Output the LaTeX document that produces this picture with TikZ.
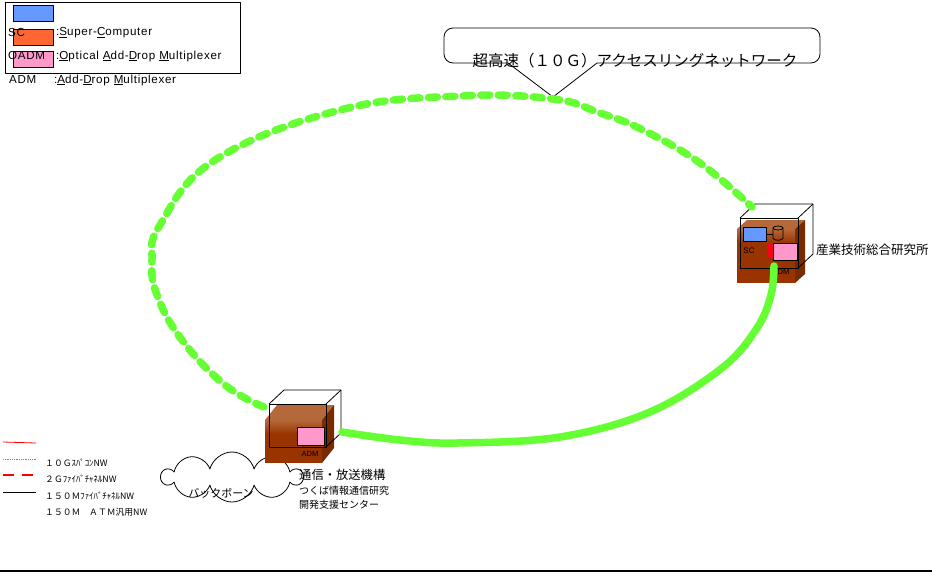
\documentclass[tikz,border=0pt]{standalone}
\usepackage{fontspec}
\setmainfont{Liberation Sans}
\newfontfamily\keyfont[LetterSpace=6]{Liberation Sans}
\newfontfamily\jp{Noto Sans CJK JP}
\usetikzlibrary{shapes.symbols}

\definecolor{ringgreen}{RGB}{102,255,51}
\definecolor{brownfront}{RGB}{153,51,0}
\definecolor{browntop}{RGB}{181,104,58}
\definecolor{brownside}{RGB}{120,42,0}
\definecolor{scblue}{RGB}{102,153,255}
\definecolor{scorange}{RGB}{255,102,51}
\definecolor{oadmpink}{RGB}{255,153,204}

\begin{document}
\begin{tikzpicture}[x=1pt,y=-1pt,line join=round]
	\tikzstyle{ring}=[ringgreen,line width=7.5pt,line cap=round]
	\tikzstyle{chip}=[draw=black,line width=1pt]
	\tikzstyle{wire}=[black,line width=0.8pt]
	\tikzstyle{lbl}=[inner sep=0pt,anchor=west]
	\tikzstyle{keytext}=[lbl,font=\keyfont\fontsize{11.6}{12}\selectfont]
	\useasboundingbox (0,0) rectangle (932,574);

	% key box, top left
	\draw[wire] (5,2) rectangle (240,73);
	\foreach \col/\y in {scblue/5, scorange/29, oadmpink/51}
		\filldraw[chip,fill=\col] (13,\y) rectangle ++(40,16);
	\node[keytext] (sc-key) at (8,33) {SC};
	\node[keytext] (sc-txt) at (56,33) {:\underline{S}uper-\underline{C}omputer};
	\node[keytext] (oadm-key) at (8,56) {OADM};
	\node[keytext] (oadm-txt) at (56,56) {:\underline{O}ptical \underline{A}dd-\underline{D}rop \underline{M}ultiplexer};
	\node[keytext] (adm-key) at (9,80) {ADM};
	\node[keytext] (adm-txt) at (54,80) {:\underline{A}dd-\underline{D}rop \underline{M}ultiplexer};

	% callout over the ring
	\coordinate (tip) at (553,97);
	\draw[wire,rounded corners=9pt] (508,63) -- (444,63) -- (444,28) -- (820,28) -- (820,63) -- (597,63);
	\draw[wire] (508,63) -- (tip) -- (597,63);
	\node[font=\jp\fontsize{15.5}{17}\selectfont,inner sep=0pt] (ring-title) at (635,61) {超高速（１０Ｇ）アクセスリングネットワーク};

	% backbone cloud
	\node[cloud,draw,wire,fill=white,cloud puffs=10,aspect=2.8,minimum width=140pt,minimum height=50pt] (backbone) at (232,477) {};
	\node[font=\jp\fontsize{11}{12}\selectfont,inner sep=0pt] (bb-txt) at (221,493) {バックボーン};

	% brown site boxes
	\foreach \x/\y/\w/\h/\dx/\dy in {265/420/57/43/12/-15, 737/229/58/54/10/-9}{
		\fill[browntop] (\x,\y) -- ++(\dx,\dy) -- ++(\w,0) -- ++(-\dx,-\dy) -- cycle;
		\fill[brownside] (\x+\w,\y) -- ++(\dx,\dy) -- ++(0,\h) -- ++(-\dx,-\dy) -- cycle;
		\fill[brownfront] (\x,\y) rectangle ++(\w,\h);
		\shade[top color=browntop,bottom color=brownfront] (\x,\y) rectangle ++(\w,14);
	}

	% what sits in the boxes
	\filldraw[chip,fill=oadmpink] (297,427) rectangle (324,445);
	\node[font=\fontsize{7.5}{8}\selectfont,inner sep=0pt] (tk-adm) at (310,454) {ADM};
	\filldraw[chip,fill=scblue] (743,227) rectangle (766,241);
	\draw[wire] (766,234) -- (773,234);
	\draw[wire] (778,228) ellipse (5 and 2);
	\draw[wire] (773,228) -- (773,238) .. controls (773,241) and (783,241) .. (783,238) -- (783,228);
	\node[font=\fontsize{8}{9}\selectfont,inner sep=0pt] (ai-sc) at (749,251) {SC};
	\fill[red!90!magenta] (768,243) rectangle (773,257);
	\filldraw[chip,fill=oadmpink] (773,243) rectangle (797,260);
	\node[font=\fontsize{7.5}{8}\selectfont,inner sep=0pt] (ai-adm) at (781,272) {ADM};

	% wire frames
	\foreach \x/\y/\w/\h in {269/404/57/43, 740/218/58/50}{
		\draw[wire] (\x,\y) rectangle ++(\w,\h);
		\draw[wire] (\x,\y) -- ++(15,-14) -- ++(\w,0) -- ++(0,\h) -- ++(-15,14);
		\draw[wire] (\x+\w,\y) -- ++(15,-14);
	}

	% the ring
	\coordinate (tk-w) at (264,407);
	\coordinate (tk-e) at (342,432);
	\coordinate (ai-w) at (752,207);
	\coordinate (ai-s) at (774,266);
	\draw[ring,dash pattern=on 9pt off 8.5pt] plot[smooth,tension=0.7] coordinates {(tk-w) (225,385) (182,340) (157,295) (152,260) (160,225) (215,160) (340,110) (460,96) (553,99) (600,113) (643,130) (700,163) (ai-w)};
	\draw[ring] plot[smooth,tension=0.6] coordinates {(tk-e) (400,440) (457,443) (560,437) (650,412) (722,368) (757,328) (771,295) (ai-s)};

	% site names
	\node[lbl,font=\jp\fontsize{12.5}{14}\selectfont] (aist) at (816,250) {産業技術総合研究所};
	\node[lbl,font=\jp\fontsize{12.3}{14}\selectfont] (tao) at (299,475) {通信・放送機構};
	\node[lbl,font=\jp\fontsize{10}{12}\selectfont] (tao-2) at (299,491) {つくば情報通信研究};
	\node[lbl,font=\jp\fontsize{10}{12}\selectfont] (tao-3) at (299,505) {開発支援センター};

	% line key, bottom left
	\draw[red,line width=0.8pt] (3,442) -- (36,443);
	\draw[gray,densely dotted,line width=0.8pt] (3,459) -- (36,459);
	\draw[red,line width=2.5pt,dash pattern=on 11pt off 8pt] (3,475) -- (36,475);
	\draw[black,line width=1pt] (3,492) -- (36,492);
	\foreach \y/\name/\txt in {463/sp/{１０ＧｽﾊﾟｺﾝNW}, 479/fc/{２ＧﾌｧｲﾊﾞﾁｬﾈﾙNW}, 496/fcm/{１５０ＭﾌｧｲﾊﾞﾁｬﾈﾙNW}, 512/atm/{１５０Ｍ　ＡＴＭ汎用NW}}
		\node[lbl,font=\jp\fontsize{8.8}{10}\selectfont] (nw-\name) at (45,\y) {\txt};

	\draw[line width=2.5pt] (0,571) -- (932,571);
\end{tikzpicture}
\end{document}
